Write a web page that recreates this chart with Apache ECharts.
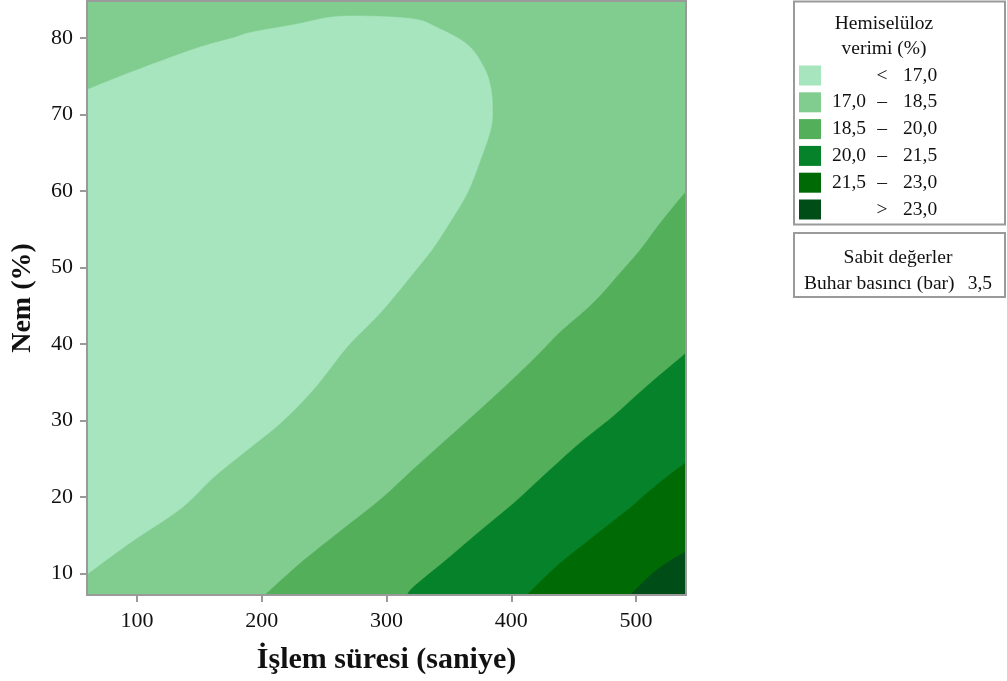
<!DOCTYPE html>
<html>
<head>
<meta charset="utf-8">
<script src="https://cdn.jsdelivr.net/npm/echarts@6/dist/echarts.min.js"></script>
<style>
  html, body { margin: 0; padding: 0; background: #ffffff; }
  #chart { width: 1007px; height: 681px; }
</style>
</head>
<body>
<div id="chart"></div>
<script>
// Contour plot: hemicellulose yield vs. treatment time and moisture (steam pressure fixed at 3.5 bar)
const FONT = '"Liberation Serif", "Times New Roman", serif';

const timeRange = [60, 540];          // İşlem süresi (saniye)
const moistureRange = [7.2, 84.8];    // Nem (%)
const timeTicks = [100, 200, 300, 400, 500];
const moistureTicks = [10, 20, 30, 40, 50, 60, 70, 80];

const levelLabels = ['17,0', '18,5', '20,0', '21,5', '23,0'];
const bandColors = ['#a6e5bd', '#81cd90', '#53af5a', '#06822a', '#006a05', '#004d17'];

// contour lines as [time, moisture] pairs
const contour170 = [
  [60, 73.2], [95.2, 75.5], [147.2, 78.6], [177.6, 80.0], [191.3, 80.7], [225.7, 81.7],
  [263.3, 82.8], [319.3, 82.5], [340.9, 81.3], [364.9, 79.1], [377.8, 76.2], [383.4, 73.6],
  [385.0, 70.6], [383.4, 68.0], [375.4, 64.1], [365.0, 59.8], [352.0, 56.2], [337.7, 52.6],
  [321.7, 49.3], [295.3, 44.1], [268.9, 39.7], [241.7, 34.1], [215.3, 29.7], [188.8, 26.2],
  [161.6, 22.6], [135.2, 18.5], [95.2, 14.1], [60, 9.9]
];
const contour185 = [
  [540, 59.9], [519.4, 55.8], [503.4, 52.3], [487.4, 49.3], [466.0, 45.4], [439.6, 41.6],
  [423.4, 38.9], [402.0, 35.5], [375.4, 31.5], [348.7, 27.6], [322.0, 23.7], [295.3, 19.7],
  [258.0, 14.9], [231.3, 11.4], [204.6, 7.5], [203.3, 7.2]
];
const contour200 = [
  [540, 38.8], [508.8, 34.5], [482.1, 30.6], [455.4, 27.1], [428.7, 23.2], [402.0, 19.2],
  [375.4, 15.6], [348.7, 11.9], [322.0, 8.3], [316.7, 7.2]
];
const contour215 = [
  [540, 24.5], [522.1, 22.3], [508.8, 20.5], [495.4, 18.6], [482.1, 16.9], [463.4, 14.5],
  [436.7, 11.0], [412.7, 7.2]
];
const contour230 = [
  [540, 12.9], [516.8, 10.5], [495.4, 7.2]
];

const fixedTitle = 'Sabit değerler';
const fixedSetting = ['Buhar basıncı (bar)', '3,5'];
const legendTitle = ['Hemiselüloz', 'verimi (%)'];

// Catmull-Rom sampling of a pixel-space polyline, so the contour is drawn as a smooth curve
function smoothPath(px, steps) {
  const out = [];
  const n = px.length;
  for (let i = 0; i < n - 1; i++) {
    const p0 = px[Math.max(i - 1, 0)], p1 = px[i], p2 = px[i + 1], p3 = px[Math.min(i + 2, n - 1)];
    for (let s = 0; s < steps; s++) {
      const t = s / steps, t2 = t * t, t3 = t2 * t;
      const f = (a, b, c, d) => 0.5 * ((2 * b) + (-a + c) * t + (2 * a - 5 * b + 4 * c - d) * t2 + (-a + 3 * b - 3 * c + d) * t3);
      out.push([f(p0[0], p1[0], p2[0], p3[0]), f(p0[1], p1[1], p2[1], p3[1])]);
    }
  }
  out.push(px[n - 1]);
  return out;
}

// filled regions, painted from the lowest band upward; each outline is a
// contour line whose two ends sit on the plot border, closed by the border
const corner = [timeRange[1], moistureRange[0]];
const fullRect = [
  [timeRange[0], moistureRange[0]], [timeRange[0], moistureRange[1]],
  [timeRange[1], moistureRange[1]], [timeRange[1], moistureRange[0]]
];
const regions = [
  { color: bandColors[1], line: fullRect, close: [], smooth: false },
  { color: bandColors[0], line: contour170, close: [], smooth: true },
  { color: bandColors[2], line: contour185, close: [corner], smooth: true },
  { color: bandColors[3], line: contour200, close: [corner], smooth: true },
  { color: bandColors[4], line: contour215, close: [corner], smooth: true },
  { color: bandColors[5], line: contour230, close: [corner], smooth: true }
];

const regionSeries = regions.map((r, i) => ({
  type: 'custom',
  coordinateSystem: 'cartesian2d',
  silent: true,
  animation: false,
  clip: true,
  z: 2 + i,
  data: [[timeRange[0], moistureRange[0]]],
  renderItem: (params, api) => {
    const px = r.line.map(p => api.coord(p));
    const edge = r.smooth ? smoothPath(px, 10) : px;
    const pts = edge.concat(r.close.map(p => api.coord(p)));
    return {
      type: 'polygon',
      shape: { points: pts },
      style: { fill: r.color, stroke: r.color, lineWidth: 0.5 }
    };
  }
}));

const frameSeries = {
  type: 'custom',
  coordinateSystem: 'cartesian2d',
  silent: true,
  animation: false,
  z: 20,
  data: [[timeRange[0], moistureRange[0]]],
  renderItem: (params, api) => {
    const a = api.coord([timeRange[0], moistureRange[1]]);
    const b = api.coord([timeRange[1], moistureRange[0]]);
    return {
      type: 'rect',
      shape: { x: a[0], y: a[1], width: b[0] - a[0], height: b[1] - a[1] },
      style: { fill: 'none', stroke: '#9a9a9a', lineWidth: 2 }
    };
  }
};

// legend rows
const legendRows = [];
legendRows.push(['', '<', levelLabels[0]]);
for (let i = 1; i < levelLabels.length; i++) legendRows.push([levelLabels[i - 1], '–', levelLabels[i]]);
legendRows.push(['', '>', levelLabels[levelLabels.length - 1]]);

const txt = (x, y, text, align) => ({
  type: 'text', x: x, y: y, silent: true,
  style: { text: text, font: '19.5px ' + FONT, fill: '#111', textAlign: align, textVerticalAlign: 'middle' }
});

const graphics = [];
graphics.push({ type: 'rect', shape: { x: 794, y: 1.5, width: 211, height: 223 },
  style: { fill: '#fff', stroke: '#9a9a9a', lineWidth: 2 } });
graphics.push(txt(884, 24, legendTitle[0], 'center'));
graphics.push(txt(884, 49, legendTitle[1], 'center'));
legendRows.forEach((row, i) => {
  const yc = 75.5 + i * 26.8;
  graphics.push({ type: 'rect', shape: { x: 799, y: yc - 10, width: 22, height: 20 },
    style: { fill: bandColors[i] }, silent: true });
  if (row[0]) graphics.push(txt(866, yc, row[0], 'right'));
  graphics.push(txt(882, yc, row[1], 'center'));
  graphics.push(txt(903, yc, row[2], 'left'));
});
graphics.push({ type: 'rect', shape: { x: 794, y: 233, width: 211, height: 64 },
  style: { fill: '#fff', stroke: '#9a9a9a', lineWidth: 2 } });
graphics.push(txt(898, 258, fixedTitle, 'center'));
graphics.push(txt(804, 284, fixedSetting[0], 'left'));
graphics.push(txt(992, 284, fixedSetting[1], 'right'));

const chart = echarts.init(document.getElementById('chart'), null, { renderer: 'canvas' });
chart.setOption({
  animation: false,
  backgroundColor: '#ffffff',
  grid: { left: 87, right: 321, top: 1, bottom: 86, containLabel: false },
  xAxis: {
    type: 'value', min: timeRange[0], max: timeRange[1],
    name: 'İşlem süresi (saniye)', nameLocation: 'middle', nameGap: 50,
    nameTextStyle: { fontFamily: FONT, fontSize: 30, fontWeight: 'bold', color: '#111' },
    axisLine: { show: true, lineStyle: { color: '#9a9a9a', width: 2 } },
    axisTick: { show: true, length: 7, customValues: timeTicks, lineStyle: { color: '#9a9a9a', width: 2 } },
    axisLabel: { customValues: timeTicks, margin: 15, fontFamily: FONT, fontSize: 22, color: '#111' },
    splitLine: { show: false }
  },
  yAxis: {
    type: 'value', min: moistureRange[0], max: moistureRange[1],
    name: 'Nem (%)', nameLocation: 'middle', nameGap: 50,
    nameTextStyle: { fontFamily: FONT, fontSize: 28, fontWeight: 'bold', color: '#111' },
    axisLine: { show: true, lineStyle: { color: '#9a9a9a', width: 2 } },
    axisTick: { show: true, length: 7, customValues: moistureTicks, lineStyle: { color: '#9a9a9a', width: 2 } },
    axisLabel: { customValues: moistureTicks, margin: 14, fontFamily: FONT, fontSize: 22, color: '#111' },
    splitLine: { show: false }
  },
  series: regionSeries.concat([frameSeries]),
  graphic: graphics
});
</script>
</body>
</html>
